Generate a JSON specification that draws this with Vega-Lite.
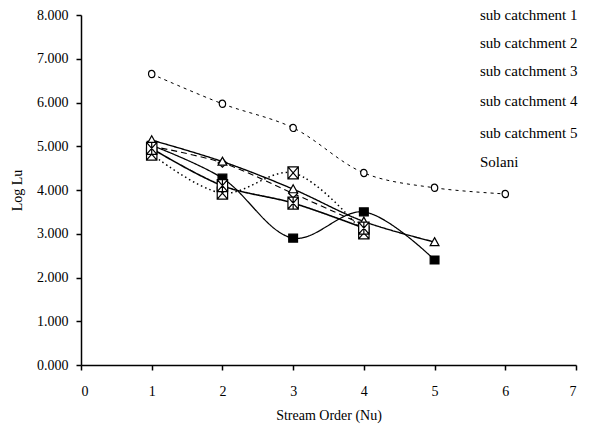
{
  "$schema": "https://vega.github.io/schema/vega-lite/v6.json",
  "width": 495,
  "height": 350,
  "autosize": {"type": "none"},
  "padding": {"left": 81, "top": 15, "right": 17, "bottom": 66},
  "background": "white",
  "config": {
    "view": {"stroke": null},
    "font": "Liberation Serif",
    "axis": {
      "grid": false,
      "domainColor": "black",
      "domainWidth": 1.5,
      "tickColor": "black",
      "tickWidth": 1.5,
      "tickSize": 5,
      "labelFont": "Liberation Serif",
      "labelFontSize": 14,
      "labelColor": "black",
      "titleFont": "Liberation Serif",
      "titleFontSize": 14,
      "titleFontWeight": "normal",
      "titleColor": "black"
    }
  },
  "data": {
    "values": [
      {"series": "sub catchment 1", "order": 1, "value": 5.0},
      {"series": "sub catchment 1", "order": 2, "value": 4.62},
      {"series": "sub catchment 1", "order": 3, "value": 3.92},
      {"series": "sub catchment 1", "order": 4, "value": 3.2},
      {"series": "sub catchment 2", "order": 1, "value": 5.02},
      {"series": "sub catchment 2", "order": 2, "value": 4.27},
      {"series": "sub catchment 2", "order": 3, "value": 2.9},
      {"series": "sub catchment 2", "order": 4, "value": 3.5},
      {"series": "sub catchment 2", "order": 5, "value": 2.4},
      {"series": "sub catchment 3", "order": 1, "value": 5.14},
      {"series": "sub catchment 3", "order": 2, "value": 4.65},
      {"series": "sub catchment 3", "order": 3, "value": 4.02},
      {"series": "sub catchment 3", "order": 4, "value": 3.28},
      {"series": "sub catchment 3", "order": 5, "value": 2.81},
      {"series": "sub catchment 4", "order": 1, "value": 4.82},
      {"series": "sub catchment 4", "order": 2, "value": 3.93},
      {"series": "sub catchment 4", "order": 3, "value": 4.39},
      {"series": "sub catchment 4", "order": 4, "value": 3.02},
      {"series": "sub catchment 5", "order": 1, "value": 4.95},
      {"series": "sub catchment 5", "order": 2, "value": 4.1},
      {"series": "sub catchment 5", "order": 3, "value": 3.7},
      {"series": "sub catchment 5", "order": 4, "value": 3.13},
      {"series": "Solani", "order": 1, "value": 6.65},
      {"series": "Solani", "order": 2, "value": 5.97},
      {"series": "Solani", "order": 3, "value": 5.42},
      {"series": "Solani", "order": 4, "value": 4.39},
      {"series": "Solani", "order": 5, "value": 4.05},
      {"series": "Solani", "order": 6, "value": 3.91}
    ]
  },
  "encoding": {
    "x": {
      "field": "order",
      "type": "quantitative",
      "scale": {"domain": [0, 7], "nice": false},
      "axis": {"values": [0, 1, 2, 3, 4, 5, 6, 7], "format": "d", "title": "Stream Order (Nu)", "labelPadding": 14, "titlePadding": 10}
    },
    "y": {
      "field": "value",
      "type": "quantitative",
      "scale": {"domain": [0, 8], "nice": false},
      "axis": {"values": [0, 1, 2, 3, 4, 5, 6, 7, 8], "format": ".3f", "title": "Log Lu", "labelPadding": 8, "titlePadding": 12}
    }
  },
  "layer": [
    {
      "mark": {"type": "line", "interpolate": "catmull-rom", "color": "black"},
      "encoding": {
        "detail": {"field": "series", "type": "nominal"},
        "strokeDash": {
          "field": "series",
          "type": "nominal",
          "scale": {
            "domain": ["Solani", "sub catchment 1", "sub catchment 2", "sub catchment 3", "sub catchment 4", "sub catchment 5"],
            "range": [[3, 4], [6, 4], [1, 0], [1, 0], [1.5, 3], [1, 0]]
          },
          "legend": null
        },
        "strokeWidth": {
          "field": "series",
          "type": "ordinal",
          "scale": {
            "domain": ["Solani", "sub catchment 1", "sub catchment 2", "sub catchment 3", "sub catchment 4", "sub catchment 5"],
            "range": [1, 1.6, 1.5, 1.5, 1.3, 1.5]
          },
          "legend": null
        }
      }
    },
    {
      "mark": {"type": "point", "filled": true, "stroke": "black", "strokeWidth": 1.2, "opacity": 1, "size": 64},
      "encoding": {
        "fill": {
          "condition": {"test": "datum.series === 'sub catchment 2'", "value": "black"},
          "value": "white"
        },
        "shape": {
          "field": "series",
          "type": "nominal",
          "scale": {
            "domain": ["sub catchment 1", "sub catchment 2", "sub catchment 3", "sub catchment 4", "sub catchment 5", "Solani"],
            "range": [
              "M0,-1.1L1.1,0L0,1.1L-1.1,0Z",
              "M-1.1,-1H1.1V1H-1.1Z",
              "M0,-1.1L1.1,0.9H-1.1Z",
              "M-1.3,-1.5H1.3V1.5H-1.3ZM-1.3,-1.5L1.3,1.5M1.3,-1.5L-1.3,1.5",
              "M-1.3,-1.5H1.3V1.5H-1.3ZM-1.3,-1.5L1.3,1.5M1.3,-1.5L-1.3,1.5M0,-1.5V1.5",
              "M0.8,0A0.8,0.9 0 1,1 -0.8,0A0.8,0.9 0 1,1 0.8,0Z"
            ]
          },
          "legend": {
            "orient": "none",
            "legendX": 356,
            "legendY": -8,
            "title": null,
            "labelFont": "Liberation Serif",
            "labelFontSize": 15,
            "labelColor": "black",
            "labelOffset": 28,
            "rowPadding": 11,
            "symbolSize": 100,
            "symbolStrokeColor": "black"
          }
        }
      }
    }
  ]
}
